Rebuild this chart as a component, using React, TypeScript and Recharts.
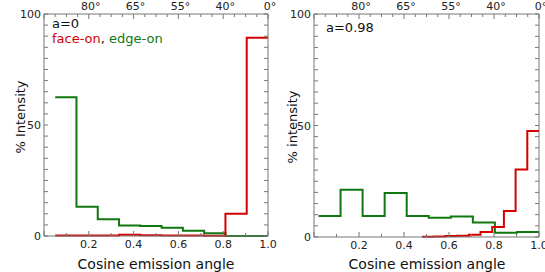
import { ComposedChart, Line, XAxis, YAxis } from 'recharts';

// bin edges and histogram heights (% intensity)
const leftEdges = [0.05, 0.145, 0.24, 0.335, 0.43, 0.525, 0.62, 0.715, 0.81, 0.905, 1.0];
const leftEdgeOn = [62.5, 13.2, 7.5, 4.7, 4.5, 3.7, 2.4, 1.2, 0, 0];
const leftFaceOn = [0.2, 0.2, 0.2, 0.6, 0.3, 0.2, 0.2, 0.1, 10, 89.3];

const rightEdgeEdges = [0.02, 0.118, 0.216, 0.314, 0.412, 0.51, 0.608, 0.706, 0.804, 0.902, 1.0];
const rightEdgeOn = [9.4, 21.2, 9.4, 19.7, 9.4, 8.6, 9.2, 6.5, 1.9, 2.2];
const rightFaceEdges = [0.48, 0.532, 0.584, 0.636, 0.688, 0.74, 0.792, 0.844, 0.896, 0.948, 1.0];
const rightFaceOn = [0.1, 0.2, 0.4, 0.6, 1.0, 2.2, 4.5, 11.7, 30.3, 47.5];

const xTicksBottom = [0, 0.1, 0.2, 0.3, 0.4, 0.5, 0.6, 0.7, 0.8, 0.9, 1.0];
const xTicksTop = [0, 0.05, 0.1, 0.15, 0.2, 0.25, 0.3, 0.35, 0.4, 0.45, 0.5, 0.55, 0.6, 0.65, 0.7, 0.75, 0.8, 0.85, 0.9, 0.95, 1.0];
const angleLabels: Record<string, string> = { '0.2': '80°', '0.4': '65°', '0.6': '55°', '0.8': '40°', '1.0': '0°' };
const yTicks = [0, 5, 10, 15, 20, 25, 30, 35, 40, 45, 50, 55, 60, 65, 70, 75, 80, 85, 90, 95, 100];
const yLabels = [0, 50, 100];

const RED = '#d40000';
const GREEN = '#117711';
const AXIS = '#777';
const FONT = '"DejaVu Sans", sans-serif';

const toSteps = (edges: number[], values: number[]) =>
  edges.map((x, i) => ({ x, y: values[Math.min(i, values.length - 1)] }));

const isMajor = (v: number) => Math.abs(v * 5 - Math.round(v * 5)) < 1e-6;

const BottomTick = (props: any) => {
  const { x, y, payload } = props;
  const v = payload.value;
  const major = isMajor(v);
  return (
    <g>
      <line x1={x} x2={x} y1={y} y2={y - (major ? 5 : 3)} stroke={AXIS} />
      {major && v > 0 && (
        <text x={x} y={y + 12} textAnchor="middle" fontSize={11} fill="#222" fontFamily={FONT}>
          {v.toFixed(1)}
        </text>
      )}
    </g>
  );
};

const TopTick = (props: any) => {
  const { x, y, payload } = props;
  const v = payload.value;
  const major = isMajor(v);
  const label = angleLabels[v.toFixed(1)];
  return (
    <g>
      <line x1={x} x2={x} y1={y} y2={y + (major ? 5 : 3)} stroke={AXIS} />
      {major && label && (
        <text x={x + 2} y={y - 4} textAnchor="middle" fontSize={11} fill="#222" fontFamily={FONT}>
          {label}
        </text>
      )}
    </g>
  );
};

const LeftTick = (props: any) => {
  const { x, y, payload } = props;
  const v = payload.value;
  return (
    <g>
      <line x1={x} x2={x + 4} y1={y} y2={y} stroke={AXIS} />
      {yLabels.includes(v) && (
        <text x={x - 3} y={y + 4} textAnchor="end" fontSize={11} fill="#222" fontFamily={FONT}>
          {v}
        </text>
      )}
    </g>
  );
};

const RightTick = (props: any) => {
  const { x, y } = props;
  return <line x1={x} x2={x - 4} y1={y} y2={y} stroke={AXIS} />;
};

interface PanelProps {
  width: number;
  leftWidth: number;
  rightWidth: number;
  bottomHeight: number;
  edgeOn: { x: number; y: number }[];
  faceOn: { x: number; y: number }[];
}

function Panel({ width, leftWidth, rightWidth, bottomHeight, edgeOn, faceOn }: PanelProps) {
  return (
    <ComposedChart width={width} height={272} margin={{ top: 0, right: 0, bottom: 0, left: 0 }}>
      <XAxis
        xAxisId="bottom"
        dataKey="x"
        type="number"
        domain={[0, 1]}
        ticks={xTicksBottom}
        interval={0}
        tickSize={0}
        tickMargin={0}
        height={bottomHeight}
        stroke={AXIS}
        tick={<BottomTick />}
      />
      <XAxis
        xAxisId="top"
        orientation="top"
        dataKey="x"
        type="number"
        domain={[0, 1]}
        ticks={xTicksTop}
        interval={0}
        tickSize={0}
        tickMargin={0}
        height={14}
        stroke={AXIS}
        tick={<TopTick />}
      />
      <YAxis
        yAxisId="left"
        type="number"
        domain={[0, 100]}
        ticks={yTicks}
        interval={0}
        tickSize={0}
        tickMargin={0}
        width={leftWidth}
        stroke={AXIS}
        tick={<LeftTick />}
      />
      <YAxis
        yAxisId="right"
        orientation="right"
        type="number"
        domain={[0, 100]}
        ticks={yTicks}
        interval={0}
        tickSize={0}
        tickMargin={0}
        width={rightWidth}
        stroke={AXIS}
        tick={<RightTick />}
      />
      {/* invisible series so the top and right axes get their ticks */}
      <Line
        data={edgeOn}
        xAxisId="top"
        yAxisId="right"
        dataKey="y"
        stroke="none"
        dot={false}
        activeDot={false}
        isAnimationActive={false}
      />
      <Line
        data={edgeOn}
        xAxisId="bottom"
        yAxisId="left"
        dataKey="y"
        type="stepAfter"
        stroke={GREEN}
        strokeWidth={2}
        dot={false}
        isAnimationActive={false}
      />
      <Line
        data={faceOn}
        xAxisId="bottom"
        yAxisId="left"
        dataKey="y"
        type="stepAfter"
        stroke={RED}
        strokeWidth={2}
        dot={false}
        isAnimationActive={false}
      />
    </ComposedChart>
  );
}

const textStyle = { position: 'absolute' as const, fontFamily: FONT, color: '#111', whiteSpace: 'nowrap' as const };

export default function App() {
  return (
    <div style={{ position: 'absolute', left: 0, top: 0, width: 545, height: 272, background: '#fff', overflow: 'hidden' }}>
      <style>{'svg.recharts-surface { overflow: visible; }'}</style>
      <div style={{ position: 'absolute', left: 0, top: 0 }}>
        <Panel
          width={272}
          leftWidth={44}
          rightWidth={4}
          bottomHeight={36}
          edgeOn={toSteps(leftEdges, leftEdgeOn)}
          faceOn={toSteps(leftEdges, leftFaceOn)}
        />
      </div>
      <div style={{ position: 'absolute', left: 272, top: 0 }}>
        <Panel
          width={273}
          leftWidth={42}
          rightWidth={6}
          bottomHeight={35}
          edgeOn={toSteps(rightEdgeEdges, rightEdgeOn)}
          faceOn={toSteps(rightFaceEdges, rightFaceOn)}
        />
      </div>

      <div style={{ ...textStyle, left: 52, top: 16, fontSize: 13 }}>a=0</div>
      <div style={{ ...textStyle, left: 52, top: 31, fontSize: 13 }}>
        <span style={{ color: RED }}>face-on</span>, <span style={{ color: GREEN }}>edge-on</span>
      </div>
      <div style={{ ...textStyle, left: 326, top: 20, fontSize: 13 }}>a=0.98</div>

      <div style={{ ...textStyle, left: 156, top: 264, fontSize: 14, transform: 'translate(-50%, -50%)' }}>
        Cosine emission angle
      </div>
      <div style={{ ...textStyle, left: 427, top: 264, fontSize: 14, transform: 'translate(-50%, -50%)' }}>
        Cosine emission angle
      </div>

      <div style={{ ...textStyle, left: 20, top: 117, fontSize: 13, transform: 'translate(-50%, -50%) rotate(-90deg)' }}>
        % Intensity
      </div>
      <div style={{ ...textStyle, left: 292, top: 127, fontSize: 13, transform: 'translate(-50%, -50%) rotate(-90deg)' }}>
        % intensity
      </div>
    </div>
  );
}
